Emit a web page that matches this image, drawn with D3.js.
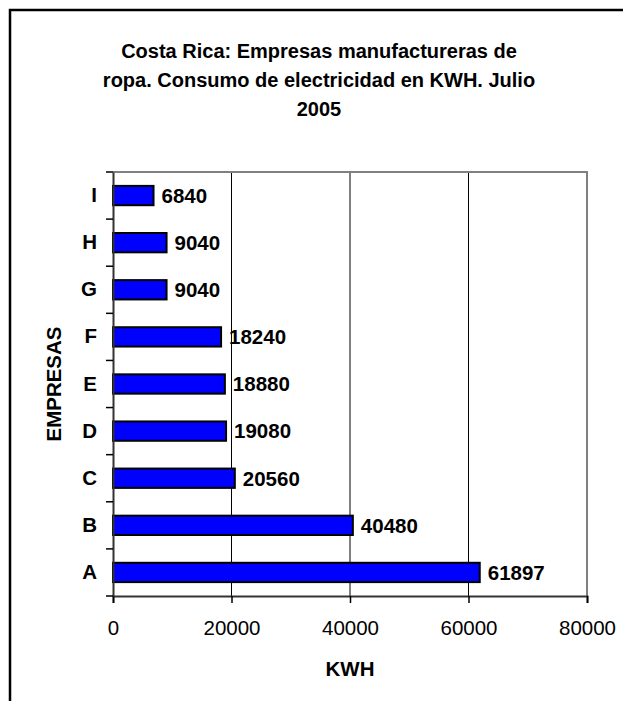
<!DOCTYPE html>
<html>
<head>
<meta charset="utf-8">
<script src="https://cdn.jsdelivr.net/npm/d3@7"></script>
<style>
  body { margin: 0; background: #fff; }
  svg { display: block; font-family: "Liberation Sans", Arial, sans-serif; }
</style>
</head>
<body>
<svg id="chart"></svg>
<script>
// Datos
const empresas = ["A", "B", "C", "D", "E", "F", "G", "H", "I"];
const consumo = [61897, 40480, 20560, 19080, 18880, 18240, 9040, 9040, 6840];
const xTicks = [0, 20000, 40000, 60000, 80000];
const titulo = [
  "Costa Rica: Empresas manufactureras de",
  "ropa. Consumo de electricidad en KWH. Julio",
  "2005"
];

const width = 623, height = 701;
const fontSize = "20.5px";
const svg = d3.select("#chart").attr("width", width).attr("height", height);

// Marco exterior (sale de la imagen a la derecha y abajo)
svg.append("rect")
  .attr("x", 10).attr("y", 10)
  .attr("width", 700).attr("height", 800)
  .attr("fill", "none")
  .attr("stroke", "#000")
  .attr("stroke-width", 2.5);

// Titulo
svg.append("g")
  .selectAll("text")
  .data(titulo)
  .enter().append("text")
  .attr("x", 319)
  .attr("y", (d, i) => 58 + i * 29)
  .attr("text-anchor", "middle")
  .attr("font-size", "20px")
  .attr("font-weight", "bold")
  .text(d => d);

// Area del grafico
const plot = { left: 113, right: 587, top: 172, bottom: 596 };

const x = d3.scaleLinear().domain([0, 80000]).range([plot.left, plot.right]);
const y = d3.scaleBand()
  .domain(empresas.slice().reverse())
  .range([plot.top, plot.bottom])
  .paddingInner(0.59)
  .paddingOuter(0.295);
const yBand = d3.scaleBand()
  .domain(empresas.slice().reverse())
  .range([plot.top, plot.bottom]);

// Lineas de cuadricula
svg.append("g")
  .selectAll("line")
  .data(xTicks.slice(1, -1))
  .enter().append("line")
  .attr("x1", d => x(d)).attr("x2", d => x(d))
  .attr("y1", plot.top).attr("y2", plot.bottom)
  .attr("stroke", "#000")
  .attr("stroke-width", 1);

// Borde superior y derecho
svg.append("path")
  .attr("d", `M${plot.left},${plot.top}H${plot.right}V${plot.bottom}`)
  .attr("fill", "none")
  .attr("stroke", "#808080")
  .attr("stroke-width", 2);

// Barras
const data = empresas.map((e, i) => ({ empresa: e, valor: consumo[i] }));

svg.append("g")
  .selectAll("rect")
  .data(data)
  .enter().append("rect")
  .attr("x", x(0))
  .attr("y", d => y(d.empresa))
  .attr("width", d => x(d.valor) - x(0))
  .attr("height", y.bandwidth())
  .attr("fill", "#0000ff")
  .attr("stroke", "#000")
  .attr("stroke-width", 2);

// Etiquetas de valores
svg.append("g")
  .selectAll("text")
  .data(data)
  .enter().append("text")
  .attr("x", d => x(d.valor) + 8)
  .attr("y", d => y(d.empresa) + y.bandwidth() / 2)
  .attr("dy", "0.36em")
  .attr("font-size", fontSize)
  .attr("font-weight", "bold")
  .text(d => d.valor);

// Eje X
const xAxis = svg.append("g")
  .attr("transform", `translate(0,${plot.bottom})`)
  .call(d3.axisBottom(x).tickValues(xTicks).tickSize(7).tickPadding(17).tickFormat(d3.format("d")));
xAxis.select(".domain").attr("stroke", "#333").attr("stroke-width", 2);
xAxis.selectAll(".tick line").attr("stroke", "#000").attr("stroke-width", 1.5);
xAxis.selectAll(".tick text")
  .attr("font-size", fontSize)
  .attr("font-family", "Liberation Sans, Arial, sans-serif")
  .attr("fill", "#000");

// Eje Y
const yAxis = svg.append("g")
  .attr("transform", `translate(${plot.left},0)`)
  .call(d3.axisLeft(yBand).tickSize(0).tickPadding(16));
yAxis.select(".domain").attr("stroke", "#333").attr("stroke-width", 2);
yAxis.selectAll(".tick text")
  .attr("font-size", fontSize)
  .attr("font-weight", "bold")
  .attr("font-family", "Liberation Sans, Arial, sans-serif")
  .attr("fill", "#000");

// Marcas entre categorias
const bounds = d3.range(empresas.length + 1).map(i => plot.top + i * yBand.step());
svg.append("g")
  .selectAll("line")
  .data(bounds)
  .enter().append("line")
  .attr("x1", plot.left - 7).attr("x2", plot.left)
  .attr("y1", d => d).attr("y2", d => d)
  .attr("stroke", "#000")
  .attr("stroke-width", 1.5);

// Titulos de ejes
svg.append("text")
  .attr("x", (plot.left + plot.right) / 2)
  .attr("y", 676)
  .attr("text-anchor", "middle")
  .attr("font-size", fontSize)
  .attr("font-weight", "bold")
  .text("KWH");

svg.append("text")
  .attr("transform", `translate(61,${(plot.top + plot.bottom) / 2}) rotate(-90)`)
  .attr("text-anchor", "middle")
  .attr("font-size", fontSize)
  .attr("font-weight", "bold")
  .text("EMPRESAS");
</script>
</body>
</html>
